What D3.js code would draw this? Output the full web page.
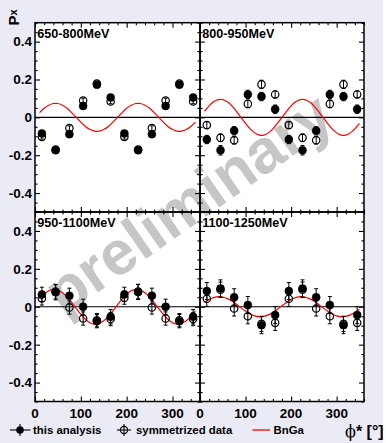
<!DOCTYPE html>
<html><head><meta charset="utf-8">
<script src="https://cdn.jsdelivr.net/npm/d3@7"></script>
<style>body{margin:0;background:#ebebf6;} svg{display:block;}</style>
</head><body><svg id="c" width="386" height="443"></svg>
<script>
// ---------------- data ----------------
const phi = [15,45,75,105,135,165,195,225,255,285,315,345];
const panelLabels = ["650-800MeV","800-950MeV","950-1100MeV","1100-1250MeV"];
const yTickLabels = [-0.4,-0.2,0,0.2,0.4];
const xTickLabels = [0,100,200,300];

const thisAnalysis650  = [-0.085,-0.174,-0.089,0.060,0.172,0.105,-0.085,-0.174,-0.089,0.060,0.172,0.105];
const thisErr650       = [0.015,0.015,0.015,0.015,0.015,0.015,0.015,0.015,0.015,0.015,0.015,0.015];
const symm650          = [-0.103,-0.170,-0.057,0.089,0.178,0.084,-0.103,-0.170,-0.057,0.089,0.178,0.084];
const symmErr650       = [0.012,0.012,0.012,0.012,0.012,0.012,0.012,0.012,0.012,0.012,0.012,0.012];

const thisAnalysis800  = [-0.117,-0.174,-0.071,0.121,0.110,0.043,-0.117,-0.174,-0.071,0.121,0.110,0.043];
const thisErr800       = [0.022,0.025,0.022,0.022,0.022,0.022,0.022,0.025,0.022,0.022,0.022,0.022];
const symm800          = [-0.041,-0.108,-0.121,0.071,0.174,0.121,-0.041,-0.108,-0.121,0.071,0.174,0.121];
const symmErr800       = [0.018,0.020,0.020,0.020,0.022,0.018,0.018,0.020,0.020,0.020,0.022,0.018];

const thisAnalysis950  = [0.065,0.076,0.058,0.000,-0.076,-0.053,0.065,0.078,0.058,0.000,-0.076,-0.053];
const thisErr950       = [0.038,0.040,0.040,0.040,0.035,0.038,0.038,0.040,0.040,0.040,0.035,0.038];
const symm950          = [0.044,0.080,-0.004,-0.062,-0.071,-0.065,0.048,0.080,-0.004,-0.062,-0.071,-0.065];
const symmErr950       = [0.035,0.038,0.035,0.035,0.035,0.035,0.035,0.038,0.035,0.035,0.035,0.035];

const thisAnalysis1100 = [0.083,0.096,0.050,0.009,-0.097,-0.044,0.083,0.096,0.050,0.009,-0.097,-0.044];
const thisErr1100      = [0.045,0.046,0.045,0.045,0.045,0.045,0.045,0.046,0.045,0.045,0.045,0.045];
const symm1100         = [0.042,0.090,-0.009,-0.050,-0.090,-0.085,0.042,0.090,-0.009,-0.050,-0.090,-0.085];
const symmErr1100      = [0.040,0.040,0.040,0.040,0.040,0.040,0.040,0.040,0.040,0.040,0.040,0.040];

const bngaPhi = [10,20,30,40,50,60,70,80,90,100,110,120,130,140,150,160,170,180,190,200,210,220,230,240,250,260,270,280,290,300,310,320,330,340,350];
const bnga650  = [0.025,0.048,0.064,0.073,0.073,0.064,0.048,0.025,0,-0.025,-0.048,-0.064,-0.073,-0.073,-0.064,-0.048,-0.025,0,0.025,0.048,0.064,0.073,0.073,0.064,0.048,0.025,0,-0.025,-0.048,-0.064,-0.073,-0.073,-0.064,-0.048,-0.025];
const bnga800  = [0.032,0.061,0.082,0.094,0.094,0.082,0.061,0.032,0,-0.032,-0.061,-0.082,-0.094,-0.094,-0.082,-0.061,-0.032,0,0.032,0.061,0.082,0.094,0.094,0.082,0.061,0.032,0,-0.032,-0.061,-0.082,-0.094,-0.094,-0.082,-0.061,-0.032];
const bnga950  = [0.040,0.066,0.084,0.092,0.088,0.074,0.051,0.022,-0.010,-0.040,-0.066,-0.084,-0.092,-0.088,-0.074,-0.051,-0.022,0.010,0.040,0.066,0.084,0.092,0.088,0.074,0.051,0.022,-0.010,-0.040,-0.066,-0.084,-0.092,-0.088,-0.074,-0.051,-0.022];
const bnga1100 = [0.023,0.038,0.048,0.053,0.051,0.043,0.030,0.013,-0.006,-0.023,-0.038,-0.048,-0.053,-0.051,-0.043,-0.030,-0.013,0.006,0.023,0.038,0.048,0.053,0.051,0.043,0.030,0.013,-0.006,-0.023,-0.038,-0.048,-0.053,-0.051,-0.043,-0.030,-0.013];

// ---------------- layout ----------------
const FONT = "'Liberation Sans', Arial, Helvetica, sans-serif";
const svg = d3.select("#c");
const W = 386, H = 443;
const X0 = 35, XM = 200, X1 = 364, Y0 = 22.7, YM = 212, Y1 = 401.5;

svg.append("rect").attr("width",W).attr("height",H).attr("fill","#ebebf6");
svg.append("rect").attr("x",383).attr("width",3).attr("height",H).attr("fill","#ffffff");

const panels = [
  {label:panelLabels[0], x0:X0, x1:XM, y0:Y0, y1:YM, fill:thisAnalysis650, fillErr:thisErr650, open:symm650, openErr:symmErr650, curve:bnga650, left:true, bottom:false},
  {label:panelLabels[1], x0:XM, x1:X1, y0:Y0, y1:YM, fill:thisAnalysis800, fillErr:thisErr800, open:symm800, openErr:symmErr800, curve:bnga800, left:false, bottom:false},
  {label:panelLabels[2], x0:X0, x1:XM, y0:YM, y1:Y1, fill:thisAnalysis950, fillErr:thisErr950, open:symm950, openErr:symmErr950, curve:bnga950, left:true, bottom:true},
  {label:panelLabels[3], x0:XM, x1:X1, y0:YM, y1:Y1, fill:thisAnalysis1100, fillErr:thisErr1100, open:symm1100, openErr:symmErr1100, curve:bnga1100, left:false, bottom:true}
];

// white plot areas
panels.forEach(p => {
  svg.append("rect").attr("x",p.x0).attr("y",p.y0).attr("width",p.x1-p.x0).attr("height",p.y1-p.y0).attr("fill","#fff");
});

// watermark
svg.append("text")
  .attr("transform","translate(188,203) rotate(-35)")
  .attr("text-anchor","middle").attr("dominant-baseline","central")
  .attr("font-family",FONT).attr("font-weight","bold").attr("font-size",62)
  .attr("fill","#c6c6c6").text("preliminary");

const yMajor = d3.range(-0.4,0.41,0.2).map(v=>+v.toFixed(2));
const yMinor = d3.range(-0.5,0.501,0.05).map(v=>+v.toFixed(2)).filter(v=>!yMajor.some(m=>Math.abs(m-v)<1e-6));
const xMajor = [0,100,200,300];
const xMinor = d3.range(0,361,20).filter(v=>v%100!==0);

panels.forEach(p => {
  const x = d3.scaleLinear().domain([0,360]).range([p.x0,p.x1]);
  const y = d3.scaleLinear().domain([-0.5,0.5]).range([p.y1,p.y0]);
  const g = svg.append("g");

  // zero line
  g.append("line").attr("x1",p.x0).attr("x2",p.x1).attr("y1",y(0)).attr("y2",y(0))
    .attr("stroke","#000").attr("stroke-width",1.1);

  // curve
  const line = d3.line().x((d,i)=>x(bngaPhi[i])).y(d=>y(d)).curve(d3.curveNatural);
  g.append("path").attr("d",line(p.curve)).attr("fill","none").attr("stroke","#ff0000").attr("stroke-width",1.2);

  // error bars + markers
  function drawSeries(vals, errs, filled) {
    vals.forEach((v,i) => {
      const cx = x(phi[i]);
      const lo = y(v-errs[i]), hi = y(v+errs[i]);
      g.append("line").attr("x1",cx).attr("x2",cx).attr("y1",lo).attr("y2",hi).attr("stroke","#000").attr("stroke-width",1);
      [lo,hi].forEach(yy => g.append("line").attr("x1",cx-2).attr("x2",cx+2).attr("y1",yy).attr("y2",yy).attr("stroke","#000").attr("stroke-width",1));
    });
    vals.forEach((v,i) => {
      g.append("circle").attr("cx",x(phi[i])).attr("cy",y(v)).attr("r",filled?4:3.7)
        .attr("fill",filled?"#000":"none").attr("stroke","#000").attr("stroke-width",filled?0.5:1.2);
    });
  }
  drawSeries(p.fill, p.fillErr, true);
  drawSeries(p.open, p.openErr, false);

  // axes with inward ticks
  const axes = [
    [d3.axisLeft, p.x0, 0, y], [d3.axisRight, p.x1, 0, y],
    [d3.axisBottom, 0, p.y1, x], [d3.axisTop, 0, p.y0, x]
  ];
  axes.forEach(([fn, tx, ty, sc]) => {
    const isY = sc === y;
    const maj = fn(sc).tickValues(isY?yMajor:xMajor).tickSize(-5).tickFormat("");
    const min = fn(sc).tickValues(isY?yMinor:xMinor).tickSize(-2.6).tickFormat("");
    [maj,min].forEach(ax => {
      const a = g.append("g").attr("transform",`translate(${tx},${ty})`).call(ax);
      a.select(".domain").remove();
      a.selectAll("line").attr("stroke","#000").attr("stroke-width",1.1);
    });
  });

  // frame
  g.append("rect").attr("x",p.x0).attr("y",p.y0).attr("width",p.x1-p.x0).attr("height",p.y1-p.y0)
    .attr("fill","none").attr("stroke","#000").attr("stroke-width",1.5);

  // tick labels
  if (p.left) {
    yTickLabels.forEach(v => {
      g.append("text").attr("x",p.x0-3).attr("y",y(v)).attr("dy","0.36em").attr("text-anchor","end")
        .attr("font-family",FONT).attr("font-weight","bold").attr("font-size",13.5)
        .text(v===0?"0":v.toFixed(1));
    });
  }
  if (p.bottom) {
    xTickLabels.forEach(v => {
      g.append("text").attr("x",x(v)).attr("y",p.y1+16.5).attr("text-anchor","middle")
        .attr("font-family",FONT).attr("font-weight","bold").attr("font-size",13.5).text(v);
    });
  }
  // panel label
  g.append("text").attr("x",p.x0+2.3).attr("y",p.y0+15).attr("font-family",FONT).attr("font-weight","bold")
    .attr("font-size",12.6).text(p.label);
});

// y title
const yt = svg.append("text").attr("transform","translate(19,25.5) rotate(-90)")
  .attr("font-family",FONT).attr("font-weight","bold").attr("font-size",15);
yt.append("tspan").text("P");
yt.append("tspan").attr("font-size",11).attr("dy",-2).text("x");

// legend
const LY = 430;
const lg = svg.append("g").attr("font-family",FONT).attr("font-weight","bold").attr("font-size",11.4);
lg.append("line").attr("x1",10).attr("x2",30.5).attr("y1",LY).attr("y2",LY).attr("stroke","#000").attr("stroke-width",1.1);
lg.append("line").attr("x1",20).attr("x2",20).attr("y1",LY-6).attr("y2",LY+6).attr("stroke","#000").attr("stroke-width",1.1);
lg.append("circle").attr("cx",20).attr("cy",LY).attr("r",3.8).attr("fill","#000");
lg.append("text").attr("x",33).attr("y",LY+4).text("this analysis");

lg.append("line").attr("x1",117).attr("x2",131).attr("y1",LY).attr("y2",LY).attr("stroke","#000").attr("stroke-width",1.1);
lg.append("line").attr("x1",124).attr("x2",124).attr("y1",LY-6).attr("y2",LY+6).attr("stroke","#000").attr("stroke-width",1.1);
lg.append("circle").attr("cx",124).attr("cy",LY).attr("r",3.6).attr("fill","none").attr("stroke","#000").attr("stroke-width",1.2);
lg.append("text").attr("x",136).attr("y",LY+4).text("symmetrized data");

lg.append("line").attr("x1",252.5).attr("x2",270).attr("y1",LY).attr("y2",LY).attr("stroke","#ff0000").attr("stroke-width",1.3);
lg.append("text").attr("x",273.5).attr("y",LY+4).text("BnGa");

// x title
const xt = svg.append("text").attr("x",345).attr("y",LY+7).attr("font-family",FONT).attr("font-weight","bold").attr("font-size",16);
xt.append("tspan").attr("font-family","'DejaVu Serif', serif").attr("font-weight","normal").text("ϕ");
xt.append("tspan").text("* [°]");
</script></body></html>
